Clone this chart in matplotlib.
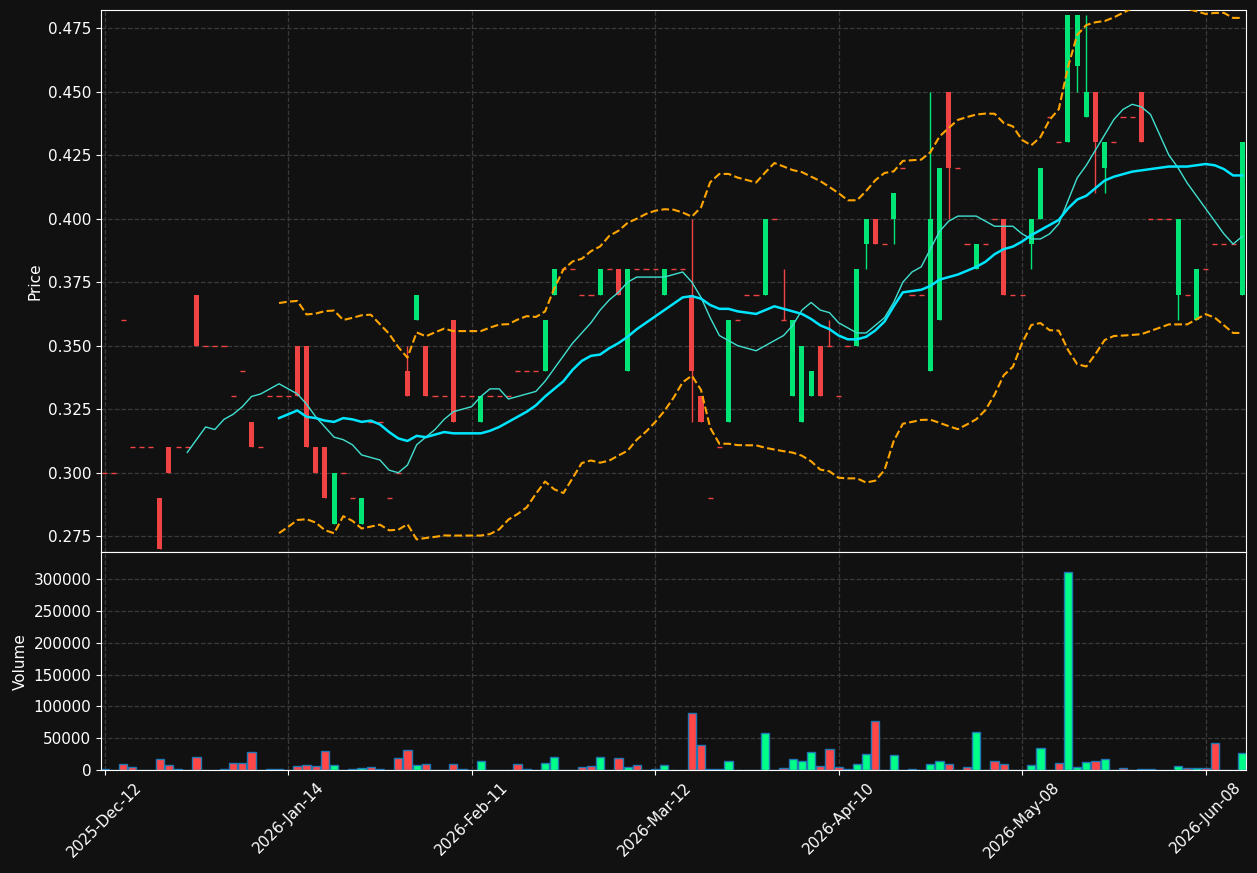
import numpy as np
import pandas as pd
import matplotlib
matplotlib.use("Agg")
from matplotlib import pyplot as plt

# daily bars (one entry per trading day)
opens = [
    .30, .30, .36, .31, .31, .31, .29, .31, .31, .31,
    .37, .35, .35, .35, .33, .34, .32, .31, .33, .33,
    .33, .35, .35, .31, .31, .28, .30, .29, .28, .32,
    .32, .29, .30, .34, .36, .35, .33, .33, .36, .33,
    .33, .32, .33, .33, .33, .34, .34, .34, .34, .37,
    .38, .38, .37, .37, .37, .38, .38, .34, .38, .38,
    .38, .37, .38, .38, .37, .33, .29, .31, .32, .36,
    .37, .37, .37, .40, .36, .33, .32, .33, .35, .35,
    .33, .35, .35, .39, .40, .39, .40, .42, .37, .37,
    .34, .36, .45, .42, .39, .38, .39, .40, .40, .37,
    .37, .39, .40, .44, .43, .43, .46, .44, .45, .42,
    .43, .44, .44, .45, .40, .40, .40, .37, .37, .36,
    .38, .39, .39, .39, .37,
]
closes = [
    .30, .30, .36, .31, .31, .31, .27, .30, .31, .31,
    .35, .35, .35, .35, .33, .34, .31, .31, .33, .33,
    .33, .33, .31, .30, .29, .30, .30, .29, .29, .32,
    .32, .29, .30, .33, .37, .33, .33, .33, .32, .33,
    .33, .33, .33, .33, .33, .34, .34, .34, .36, .38,
    .38, .38, .37, .37, .38, .38, .37, .38, .38, .38,
    .38, .38, .38, .38, .34, .32, .29, .31, .36, .36,
    .37, .37, .40, .40, .36, .36, .35, .34, .33, .35,
    .33, .35, .38, .40, .39, .39, .41, .42, .37, .37,
    .40, .42, .42, .42, .39, .39, .39, .40, .37, .37,
    .37, .40, .42, .44, .43, .48, .48, .45, .43, .43,
    .43, .44, .44, .43, .40, .40, .40, .40, .37, .38,
    .38, .39, .39, .39, .43,
]
volumes = [
    1000, 0, 9000, 4200, 0, 0, 17400, 7400, 1000, 0,
    20000, 0, 0, 1000, 11000, 11000, 28400, 0, 1000, 1000,
    0, 5800, 7400, 5800, 30000, 7400, 0, 1000, 2600, 4200,
    1000, 0, 19000, 31600, 7400, 9500, 0, 0, 9500, 1000,
    0, 14200, 0, 0, 0, 8900, 1000, 0, 10500, 20000,
    0, 0, 4200, 5800, 20000, 0, 18400, 4200, 7400, 0,
    1000, 7400, 0, 0, 89400, 38900, 1000, 1000, 13700, 0,
    0, 0, 57900, 0, 2600, 16800, 13700, 27900, 5800, 32600,
    4200, 1000, 8900, 25200, 76800, 0, 23100, 0, 1000, 0,
    8900, 13700, 8900, 0, 4200, 59400, 0, 13700, 8900, 0,
    0, 7400, 34200, 0, 10500, 311000, 4200, 12100, 13700, 16800,
    0, 2600, 0, 1000, 1000, 0, 0, 5800, 2600, 2600,
    2600, 42100, 0, 0, 26300,
]
# wicks that stick out of the body
wick_high = {33: .35, 64: .40, 74: .38, 79: .36, 90: .45, 107: .48}
wick_low = {64: .32, 83: .38, 86: .39, 92: .40, 101: .38, 106: .45,
            108: .41, 109: .41, 117: .36}

tick_labels = ["2025-Dec-12", "2026-Jan-14", "2026-Feb-11", "2026-Mar-12",
               "2026-Apr-10", "2026-May-08", "2026-Jun-08"]

BG = "#111111"
UP = "#00e676"
DOWN = "#f04343"
VUP = "#00ff88"
VDOWN = "#ff4747"


def main():
    o = np.array(opens)
    c = np.array(closes)
    v = np.array(volumes)
    n = len(c)
    x = np.arange(n)
    hi = np.maximum(o, c)
    lo = np.minimum(o, c)
    for k, val in wick_high.items():
        hi[k] = val
    for k, val in wick_low.items():
        lo[k] = val

    s = pd.Series(c)
    ma10 = s.rolling(10).mean()
    ma20 = s.rolling(20).mean()
    sd20 = s.rolling(20).std(ddof=0)

    fig, (ax1, ax2) = plt.subplots(2, 1, sharex=True, figsize=(12.57, 8.73), dpi=100,
                                   gridspec_kw={"height_ratios": [2.49, 1]})
    fig.patch.set_facecolor(BG)
    fig.subplots_adjust(left=0.0804, right=0.9912, top=0.9885, bottom=0.118, hspace=0)

    up = c > o
    cols = np.where(up, UP, DOWN)
    flat = c == o

    # candles
    ax1.vlines(x, lo, hi, colors=cols, lw=1, zorder=2)
    body = ~flat
    ax1.bar(x[body], (c - o)[body], bottom=o[body], width=0.55, color=cols[body],
            linewidth=0, zorder=2)
    ax1.hlines(c[flat], x[flat] - 0.28, x[flat] + 0.28, colors=DOWN, lw=1, zorder=2)

    ax1.plot(x, ma10, color="#40e0d0", lw=1, zorder=3)
    ax1.plot(x, ma20, color="#00e5ff", lw=1.8, zorder=3)
    ax1.plot(x, ma20 + 2 * sd20, color="orange", lw=1.5, ls="--", zorder=3)
    ax1.plot(x, ma20 - 2 * sd20, color="orange", lw=1.5, ls="--", zorder=3)

    ax1.set_ylim(0.2687, 0.4821)
    ax1.set_yticks([0.275, 0.300, 0.325, 0.350, 0.375, 0.400, 0.425, 0.450, 0.475])
    ax1.set_ylabel("Price", color="white", fontsize=11)

    # volume
    ax2.bar(x, v, width=0.9, color=np.where(up, VUP, VDOWN), edgecolor="#1f77b4",
            linewidth=1, zorder=2)
    ax2.set_ylim(0, v.max() * 1.1)
    ax2.ticklabel_format(axis="y", style="plain")
    ax2.set_yticks(np.arange(0, 300001, 50000))
    ax2.set_ylabel("Volume", color="white", fontsize=11)

    ax2.set_xlim(-0.4, n - 1 + 0.4)
    ax2.set_xticks(np.arange(0, n, 20))
    ax2.set_xticklabels(tick_labels, rotation=45)

    for ax in (ax1, ax2):
        ax.set_facecolor(BG)
        ax.grid(True, color="#3a3a3a", ls="--", lw=0.9)
        ax.set_axisbelow(True)
        ax.tick_params(colors="white", labelsize=11)
        for sp in ax.spines.values():
            sp.set_color("white")
    ax1.tick_params(axis="x", length=0)

    fig.savefig("out.png", facecolor=BG)


if __name__ == "__main__":
    main()
